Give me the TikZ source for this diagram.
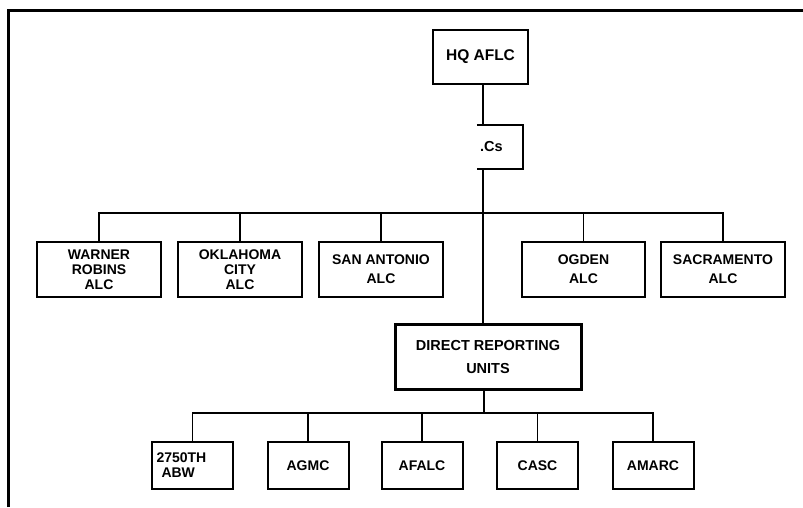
\documentclass[tikz,border=0pt]{standalone}
\usepackage{fontspec}
\setmainfont{Liberation Sans}
\usetikzlibrary{positioning,calc}

\begin{document}
\begin{tikzpicture}[
  x=1pt,y=-1pt,
  font=\fontsize{14}{15}\selectfont\bfseries,
  unit/.style={draw,line width=2pt,align=center,inner sep=2pt},
  alc/.style={unit,minimum width=124pt,minimum height=55pt},
  sub/.style={unit,minimum width=81pt,minimum height=47pt},
  link/.style={line width=1.8pt}
]
\useasboundingbox (0,0) rectangle (803,507);
\draw[line width=3pt] (8,507) -- (8,10) -- (803,10);

\node[unit,minimum width=95pt,minimum height=54pt,
      font=\fontsize{15.5}{18}\selectfont\bfseries] (hq) at (480.5,57) {HQ AFLC};
\node[text width=40pt,align=left,inner sep=3pt,minimum height=44pt,
      font=\fontsize{14.5}{18}\selectfont\bfseries] (cs) at (500,147) {.Cs};
\draw[line width=2pt] (cs.north west) -- (cs.north east)
  -- (cs.south east) -- (cs.south west);

\node[alc] (wr) at (99,269.5) {WARNER\\ROBINS\\ALC};
\node[alc] (oc) at (240,269.5) {OKLAHOMA\\CITY\\ALC};
\node[alc] (sa) at (381,269.5) {SAN ANTONIO\\[4pt]ALC};
\node[alc,minimum width=123pt] (og) at (583.5,269.5) {OGDEN\\[4pt]ALC};
\node[alc] (sc) at (723,269.5) {SACRAMENTO\\[4pt]ALC};

\node[unit,line width=3pt,minimum width=186pt,minimum height=65pt,
      font=\fontsize{14.5}{23}\selectfont\bfseries] (dru) at (488,356.5)
 {DIRECT REPORTING\\UNITS};

\node[sub,text width=72pt,align=left,inner sep=3pt] (abw) at (192.5,465.5)
 {2750TH\\\hspace{5pt}ABW};
\node[sub] (agmc) at (308,465.5) {AGMC};
\node[sub] (afalc) at (422,465.5) {AFALC};
\node[sub] (casc) at (537.5,465.5) {CASC};
\node[sub] (amarc) at (653,465.5) {AMARC};

\coordinate (bus1) at (483,213);
\coordinate (bus2) at (484,413);

\draw[link] (hq.south -| bus1) -- (cs.north -| bus1);
\draw[link] (cs.south -| bus1) -- (dru.north -| bus1);
\draw[link] (wr.north) |- (bus1) -| (sc.north);
\foreach \n in {oc,sa,og}
  \draw[link] (\n.north) -- (\n.north |- bus1);

\draw[link] (dru.south -| bus2) -- (bus2);
\draw[link] (abw.north) |- (bus2) -| (amarc.north);
\foreach \n in {agmc,afalc,casc}
  \draw[link] (\n.north) -- (\n.north |- bus2);
\end{tikzpicture}
\end{document}
